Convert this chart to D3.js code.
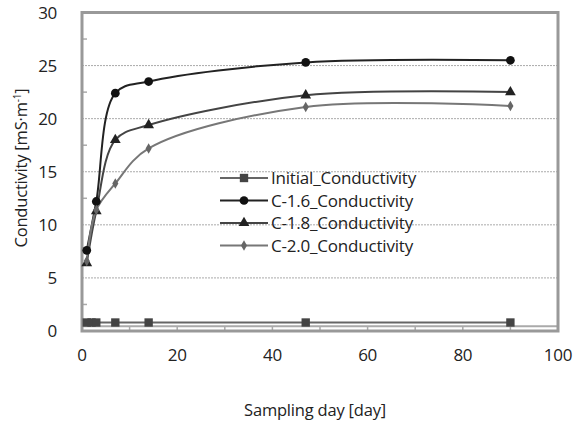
<!DOCTYPE html>
<html>
<head>
<meta charset="utf-8">
<script src="https://cdn.jsdelivr.net/npm/d3@7"></script>
<style>
  body { margin: 0; background: #fff; }
  text { font-family: "Open Sans", sans-serif; fill: #222; }
</style>
</head>
<body>
<script>
const WIDTH = 578;
const HEIGHT = 424;

// data
var days = [1, 3, 7, 14, 47, 90];
var initialDays = [1, 2, 3, 7, 14, 47, 90];
var initialValues = [0.8, 0.8, 0.8, 0.8, 0.8, 0.8, 0.8];
var c16Values = [7.6, 12.2, 22.4, 23.5, 25.3, 25.5];
var c18Values = [6.4, 11.3, 18.0, 19.4, 22.2, 22.5];
var c20Values = [6.6, 11.4, 13.9, 17.2, 21.1, 21.2];
var xTicks = [0, 20, 40, 60, 80, 100];
var yTicks = [0, 5, 10, 15, 20, 25, 30];
var seriesNames = ['Initial_Conductivity', 'C-1.6_Conductivity', 'C-1.8_Conductivity', 'C-2.0_Conductivity'];

var series = [
    { name: seriesNames[0], xs: initialDays, ys: initialValues, color: '#666', mark: '#444', symbol: d3.symbolSquare, size: 70 },
    { name: seriesNames[1], xs: days, ys: c16Values, color: '#222', mark: '#111', symbol: d3.symbolCircle, size: 60 },
    { name: seriesNames[2], xs: days, ys: c18Values, color: '#444', mark: '#222', symbol: d3.symbolTriangle, size: 50 },
    { name: seriesNames[3], xs: days, ys: c20Values, color: '#777', mark: '#666', symbol: d3.symbolDiamond, size: 32 }
];

var x = d3.scaleLinear().domain([0, 100]).range([82, 558]);
var y = d3.scaleLinear().domain([0, 30]).range([331, 12.5]);

var svg = d3.select('body')
    .append('svg')
    .attr('width', WIDTH)
    .attr('height', HEIGHT);

// gridlines
svg.selectAll('line.grid')
    .data([5, 10, 15, 20, 25])
    .enter()
    .append('line')
    .attr('x1', x(0))
    .attr('x2', x(100))
    .attr('y1', function(d) { return y(d); })
    .attr('y2', function(d) { return y(d); })
    .attr('stroke', '#aaa')
    .attr('stroke-width', 1)
    .attr('stroke-dasharray', '2,1');

// x axis line sits a little above the frame bottom, ticks hang down
var xAxisY = y(0.45);
svg.append('line')
    .attr('x1', x(0)).attr('x2', x(100))
    .attr('y1', xAxisY).attr('y2', xAxisY)
    .attr('stroke', '#aaa').attr('stroke-width', 2);
svg.selectAll('line.xtick')
    .data(d3.range(10, 100, 10))
    .enter()
    .append('line')
    .attr('x1', function(d) { return x(d); })
    .attr('x2', function(d) { return x(d); })
    .attr('y1', xAxisY)
    .attr('y2', y(0))
    .attr('stroke', '#aaa').attr('stroke-width', 1.5);

// y minor ticks
svg.selectAll('line.ytick')
    .data([2.5, 7.5, 12.5, 17.5, 22.5, 27.5])
    .enter()
    .append('line')
    .attr('x1', x(0))
    .attr('x2', x(0) + 5)
    .attr('y1', function(d) { return y(d); })
    .attr('y2', function(d) { return y(d); })
    .attr('stroke', '#aaa').attr('stroke-width', 1.5);

// frame
svg.append('rect')
    .attr('x', x(0))
    .attr('y', y(30))
    .attr('width', x(100) - x(0))
    .attr('height', y(0) - y(30))
    .attr('fill', 'none')
    .attr('stroke', '#999')
    .attr('stroke-width', 3);

// tick labels
svg.selectAll('text.xl')
    .data(xTicks)
    .enter()
    .append('text')
    .attr('x', function(d) { return x(d); })
    .attr('y', 361)
    .attr('text-anchor', 'middle')
    .attr('font-size', '17px')
    .attr('letter-spacing', '-0.3px')
    .text(function(d) { return d; });

svg.selectAll('text.yl')
    .data(yTicks)
    .enter()
    .append('text')
    .attr('x', 57)
    .attr('y', function(d) { return y(d) + 6; })
    .attr('text-anchor', 'end')
    .attr('font-size', '17px')
    .attr('letter-spacing', '-0.3px')
    .text(function(d) { return d; });

// axis titles
svg.append('text')
    .attr('x', 315)
    .attr('y', 416)
    .attr('text-anchor', 'middle')
    .attr('font-size', '16.5px')
    .attr('letter-spacing', '-0.2px')
    .text('Sampling day [day]');

var yt = svg.append('text')
    .attr('transform', 'translate(27,168) rotate(-90)')
    .attr('text-anchor', 'middle')
    .attr('font-size', '16.5px')
    .attr('letter-spacing', '-0.2px');
yt.append('tspan').text('Conductivity [mS·m');
yt.append('tspan').attr('dy', -6).attr('font-size', '10px').text('-1');
yt.append('tspan').attr('dy', 6).text(']');

// lines
var line = d3.line()
    .x(function(d) { return x(d[0]); })
    .y(function(d) { return y(d[1]); })
    .curve(d3.curveCatmullRom.alpha(0.5));

series.forEach(function(s) {
    var pts = d3.zip(s.xs, s.ys);
    svg.append('path')
        .datum(pts)
        .attr('d', line)
        .attr('fill', 'none')
        .attr('stroke', s.color)
        .attr('stroke-width', 2);
});

series.forEach(function(s) {
    var pts = d3.zip(s.xs, s.ys);
    svg.selectAll(null)
        .data(pts)
        .enter()
        .append('path')
        .attr('d', d3.symbol().type(s.symbol).size(s.size))
        .attr('transform', function(d) { return 'translate(' + x(d[0]) + ',' + y(d[1]) + ')'; })
        .attr('fill', s.mark);
});

// legend
var legend = svg.selectAll('g.legend')
    .data(series)
    .enter()
    .append('g')
    .attr('transform', function(d, i) { return 'translate(220,' + (178 + i * 22.5) + ')'; });

legend.append('line')
    .attr('x1', 0).attr('x2', 48)
    .attr('stroke', function(d) { return d.color; })
    .attr('stroke-width', 2);

legend.append('path')
    .attr('d', function(d) { return d3.symbol().type(d.symbol).size(d.size)(); })
    .attr('transform', 'translate(24,0)')
    .attr('fill', function(d) { return d.mark; });

legend.append('text')
    .attr('x', 51)
    .attr('y', 6)
    .attr('font-size', '17px')
    .attr('letter-spacing', '-0.2px')
    .text(function(d) { return d.name; });
</script>
</body>
</html>
